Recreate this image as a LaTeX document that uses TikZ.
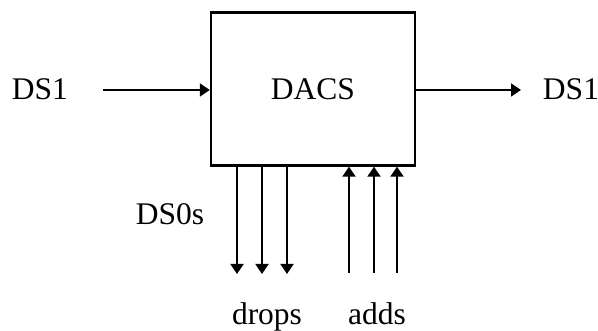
\documentclass[tikz,border=0pt]{standalone}
\usepackage{fontspec}
\setmainfont{Liberation Serif}
\usetikzlibrary{arrows.meta}

\begin{document}
\begin{tikzpicture}[x=1pt,y=1pt,
    sig/.style={line width=1.9pt,-{Triangle[length=10pt,width=13pt]}},
    lbl/.style={anchor=base,font=\fontsize{31.5}{38}\selectfont}]
    \useasboundingbox (0,0) rectangle (598,331);
    \node[draw,line width=2.4pt,minimum width=204pt,minimum height=153pt,inner sep=0pt,
          font=\fontsize{31.5}{38}\selectfont] (dacs) at (313,242) {DACS};
    \coordinate (in1) at (103,241);
    \coordinate (out1) at (521,241);
    \draw[sig] (in1) -- (in1 -| dacs.west);
    \draw[sig] (dacs.east |- out1) -- (out1);
    \foreach \d/\x in {d1/237,d2/262,d3/287} {
        \coordinate (\d) at (\x,57);
        \draw[sig] (\d |- dacs.south) -- (\d);
    }
    \foreach \a/\x in {a1/349,a2/374,a3/397} {
        \coordinate (\a) at (\x,58);
        \draw[sig] (\a) -- (\a |- dacs.south);
    }
    \node[lbl] (ds1in)  at (40,231)  {DS1};
    \node[lbl] (ds1out) at (571,231) {DS1};
    \node[lbl] (ds0s)   at (170,106) {DS0s};
    \node[lbl] (drops)  at (267,6)   {drops};
    \node[lbl] (adds)   at (377,6)   {adds};
\end{tikzpicture}
\end{document}
